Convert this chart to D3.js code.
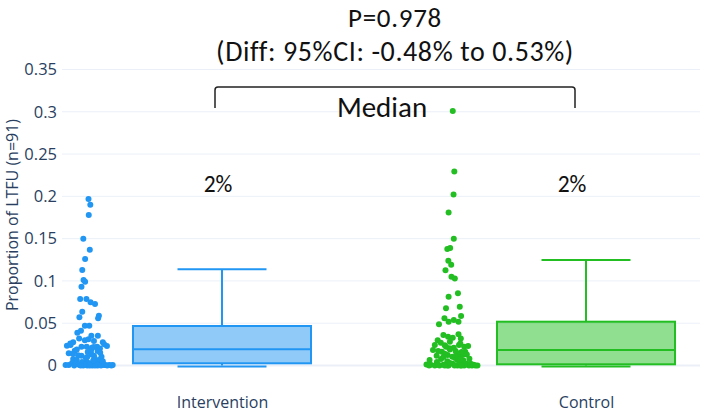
<!DOCTYPE html>
<html>
<head>
<meta charset="utf-8">
<script src="https://cdn.jsdelivr.net/npm/d3@7"></script>
<style>
  html, body { margin: 0; padding: 0; background: #fff; }
  svg { display: block; }
</style>
</head>
<body>
<svg id="chart" width="709" height="412"></svg>
<script>
// ---------------- DATA ----------------
const categories = ["Intervention", "Control"];
const yTicks = [0, 0.05, 0.1, 0.15, 0.2, 0.25, 0.3, 0.35];
const yTickLabels = ["0", "0.05", "0.1", "0.15", "0.2", "0.25", "0.3", "0.35"];

// box statistics
const boxLowerFence = [0.0, 0.0];
const boxQ1 = [0.0026, 0.0014];
const boxMedian = [0.0191, 0.0183];
const boxQ3 = [0.0467, 0.0518];
const boxUpperFence = [0.1137, 0.1247];

// individual points (value, jitter in [-1,1])
const interventionValues = [0.197, 0.190, 0.178, 0.150, 0.137, 0.126, 0.113, 0.101, 0.099, 0.093,
  0.0786, 0.0786, 0.0747, 0.0727, 0.0636, 0.0589, 0.057, 0.0558, 0.047, 0.047,
  0.041, 0.0388, 0.0352, 0.0352, 0.032, 0.030, 0.031, 0.029, 0.0274, 0.0274,
  0.0234, 0.0242, 0.0222, 0.0222, 0.0222, 0.023, 0.020, 0.0175, 0.016, 0.0144,
  0.0116, 0.0116, 0.0104, 0.0077, 0.0065, 0.0045, 0.0053, 0.0006, 0.0006, 0.0006,
  0.0, 0.0014, 0.0006, 0.0006, 0.0006, 0.0006, 0.019, 0.013, 0.009, 0.003,
  0.002, 0.001, 0.0, 0.0, 0.0, 0.025, 0.021, 0.017, 0.012, 0.008,
  0.004, 0.002, 0.0, 0.0, 0.026, 0.014, 0.007, 0.003, 0.001, 0.0,
  0.018, 0.010, 0.005, 0.0, 0.0, 0.022, 0.015, 0.006, 0.002, 0.0, 0.0];
const interventionJitter = [0.0, 0.07, 0.01, -0.2, 0.05, -0.13, -0.24, -0.19, -0.13, -0.27,
  -0.32, -0.08, 0.08, 0.25, -0.24, 0.4, -0.35, 0.37, -0.14, 0.03,
  -0.29, -0.43, 0.11, 0.36, -0.36, -0.14, 0.0, 0.21, -0.59, 0.55,
  -0.83, -0.69, -0.27, -0.07, 0.33, 0.71, 0.44, -0.53, -0.03, -0.76,
  -0.27, 0.21, 0.5, -0.59, -0.45, -0.08, 0.37, -0.88, -0.76, -0.35,
  -0.05, 0.21, 0.6, 0.64, 0.8, 0.93, -0.45, 0.12, -0.1, -0.63,
  0.28, 0.47, -0.2, 0.15, 0.72, 0.6, 0.13, 0.35, -0.4, 0.25,
  -0.25, 0.05, -0.55, 0.35, -0.7, -0.6, 0.45, 0.0, -0.15, 0.48,
  0.1, -0.05, 0.55, -0.3, 0.25, 0.2, 0.45, 0.18, -0.48, 0.05, 0.88];

const controlValues = [0.301, 0.2295, 0.2023, 0.181, 0.150, 0.1377, 0.139, 0.124, 0.119, 0.1125,
  0.105, 0.103, 0.0813, 0.0853, 0.0676, 0.0695, 0.0558, 0.0585, 0.0487, 0.0518,
  0.0538, 0.0518, 0.036, 0.034, 0.0329, 0.0369, 0.032, 0.030, 0.0242, 0.0222,
  0.0203, 0.0242, 0.0222, 0.0183, 0.0163, 0.0171, 0.0163, 0.0116, 0.0124, 0.0104,
  0.0124, 0.0065, 0.0077, 0.0065, 0.0077, 0.0012, 0.001, 0.0, 0.001, 0.0,
  0.002, 0.0, 0.0014, 0.0, 0.001, 0.0, 0.0, 0.027, 0.021, 0.014,
  0.009, 0.004, 0.002, 0.0, 0.0, 0.026, 0.019, 0.013, 0.008, 0.003,
  0.001, 0.0, 0.0, 0.024, 0.016, 0.011, 0.005, 0.002, 0.0, 0.0,
  0.028, 0.017, 0.01, 0.006, 0.0, 0.023, 0.015, 0.007, 0.003, 0.0, 0.0];
const controlJitter = [0.01, 0.07, 0.04, -0.15, 0.05, -0.2, -0.09, -0.16, -0.05, -0.27,
  -0.04, 0.09, -0.15, 0.21, -0.25, 0.28, -0.31, 0.33, -0.52, -0.15,
  0.05, 0.23, -0.35, -0.17, 0.01, 0.23, 0.32, -0.57, -0.68, -0.25,
  -0.12, 0.25, 0.45, -0.75, -0.41, 0.12, 0.49, -0.61, -0.19, -0.01,
  0.39, -0.88, -0.44, 0.19, 0.25, -1.0, -0.84, -0.68, -0.35, -0.15,
  0.01, 0.19, 0.39, 0.63, 0.81, 0.96, 0.3, -0.45, 0.05, -0.3,
  0.1, -0.6, 0.55, -0.5, 0.08, 0.3, -0.1, 0.55, 0.65, 0.28,
  -0.55, 0.45, -0.2, -0.3, 0.35, 0.2, -0.2, 0.7, 0.75, -0.9,
  -0.1, -0.55, -0.35, 0.42, 0.88, 0.6, 0.15, 0.3, -0.1, -0.3, 0.35];

const medianLabels = ["2%", "2%"];
const titleLines = ["P=0.978", "(Diff: 95%CI: -0.48% to 0.53%)"];
const bracketLabel = "Median";
const yAxisTitle = "Proportion of LTFU (n=91)";

// ---------------- STYLE ----------------
const colors = ["#2196F3", "#22BE22"];
const fills = ["rgba(33,150,243,0.5)", "rgba(34,190,34,0.5)"];
const boxHalf = 89;
const capHalf = 44.5;
const pointOffset = -133.5;
const jitterHalf = 26;
const plotLeft = 62, plotRight = 700;
const axisColor = "#2a3f5f";

const svg = d3.select("#chart");

const y = d3.scaleLinear().domain([0, 0.35]).range([365.5, 69.5]);
const x = d3.scalePoint().domain(categories).range([222, 586]);

// gridlines
const grid = svg.append("g");
grid.selectAll("line").data(yTicks).join("line")
  .attr("x1", plotLeft).attr("x2", plotRight)
  .attr("y1", d => y(d)).attr("y2", d => y(d))
  .attr("stroke", "#ebf0f8")
  .attr("stroke-width", (d) => d === 0 ? 2 : 1);

// y axis (labels only)
const yAxis = d3.axisLeft(y).tickValues(yTicks)
  .tickFormat((d, i) => yTickLabels[i]).tickSize(0).tickPadding(0);
const yg = svg.append("g").attr("transform", `translate(${plotLeft - 5},0)`).call(yAxis);
yg.select(".domain").remove();
yg.selectAll("text").attr("fill", axisColor)
  .style("font-family", "'Open Sans', sans-serif").style("font-size", "16.5px");

svg.append("text")
  .attr("transform", `translate(18,215) rotate(-90)`)
  .attr("text-anchor", "middle")
  .attr("fill", axisColor)
  .style("font-family", "'Open Sans', sans-serif").style("font-size", "16px")
  .text(yAxisTitle);

// x axis labels
const xAxis = d3.axisBottom(x).tickSize(0).tickPadding(0);
const xg = svg.append("g").attr("transform", `translate(0,${397})`).call(xAxis);
xg.select(".domain").remove();
xg.selectAll("text").attr("fill", axisColor)
  .style("font-family", "'Open Sans', sans-serif").style("font-size", "16px");

// boxes
categories.forEach((c, i) => {
  const cx = x(c);
  const g = svg.append("g");
  const col = colors[i];
  g.append("rect")
    .attr("x", cx - boxHalf).attr("width", 2 * boxHalf)
    .attr("y", y(boxQ3[i])).attr("height", y(boxQ1[i]) - y(boxQ3[i]))
    .attr("fill", fills[i]).attr("stroke", col).attr("stroke-width", 2);
  g.append("line").attr("x1", cx - boxHalf).attr("x2", cx + boxHalf)
    .attr("y1", y(boxMedian[i])).attr("y2", y(boxMedian[i]))
    .attr("stroke", col).attr("stroke-width", 2);
  g.append("line").attr("x1", cx).attr("x2", cx)
    .attr("y1", y(boxQ3[i])).attr("y2", y(boxUpperFence[i]))
    .attr("stroke", col).attr("stroke-width", 2);
  g.append("line").attr("x1", cx).attr("x2", cx)
    .attr("y1", y(boxQ1[i])).attr("y2", y(boxLowerFence[i]))
    .attr("stroke", col).attr("stroke-width", 2);
  g.append("line").attr("x1", cx - capHalf).attr("x2", cx + capHalf)
    .attr("y1", y(boxUpperFence[i])).attr("y2", y(boxUpperFence[i]))
    .attr("stroke", col).attr("stroke-width", 2);
  g.append("line").attr("x1", cx - capHalf).attr("x2", cx + capHalf)
    .attr("y1", y(boxLowerFence[i]) + 1).attr("y2", y(boxLowerFence[i]) + 1)
    .attr("stroke", col).attr("stroke-width", 2);
});

// points
const pointSets = [
  { vals: interventionValues, jit: interventionJitter },
  { vals: controlValues, jit: controlJitter }
];
pointSets.forEach((s, i) => {
  const cx = x(categories[i]) + pointOffset;
  svg.append("g").selectAll("circle").data(s.vals).join("circle")
    .attr("cx", (d, k) => cx + s.jit[k] * jitterHalf)
    .attr("cy", d => y(d))
    .attr("r", 3)
    .attr("fill", colors[i]);
});

// annotations
const annFont = "Carlito, Lato, 'Liberation Sans', sans-serif";
svg.append("text").attr("x", 395).attr("y", 27).attr("text-anchor", "middle")
  .style("font-family", annFont).style("font-size", "27px").style("letter-spacing", "0.7px")
  .attr("fill", "#111").text(titleLines[0]);
svg.append("text").attr("x", 395).attr("y", 61).attr("text-anchor", "middle")
  .style("font-family", annFont).style("font-size", "28px").style("letter-spacing", "0.6px")
  .attr("fill", "#111").text(titleLines[1]);

// bracket
const bx1 = x(categories[0]) - 7, bx2 = x(categories[1]) - 11;
const by = 87, byEnd = 108;
svg.append("path")
  .attr("d", `M${bx1},${byEnd} L${bx1},${by + 3} Q${bx1},${by} ${bx1 + 3},${by} L${bx2 - 3},${by} Q${bx2},${by} ${bx2},${by + 3} L${bx2},${byEnd}`)
  .attr("fill", "none").attr("stroke", "#222").attr("stroke-width", 1.5);
svg.append("text").attr("x", 382).attr("y", 117).attr("text-anchor", "middle")
  .style("font-family", annFont).style("font-size", "29px").attr("fill", "#111")
  .text(bracketLabel);

// median labels
medianLabels.forEach((t, i) => {
  svg.append("text").attr("x", x(categories[i]) - (i === 0 ? 4 : 14)).attr("y", 192)
    .attr("text-anchor", "middle")
    .style("font-family", annFont).style("font-size", "23.5px").attr("fill", "#111")
    .text(t);
});
</script>
</body>
</html>
